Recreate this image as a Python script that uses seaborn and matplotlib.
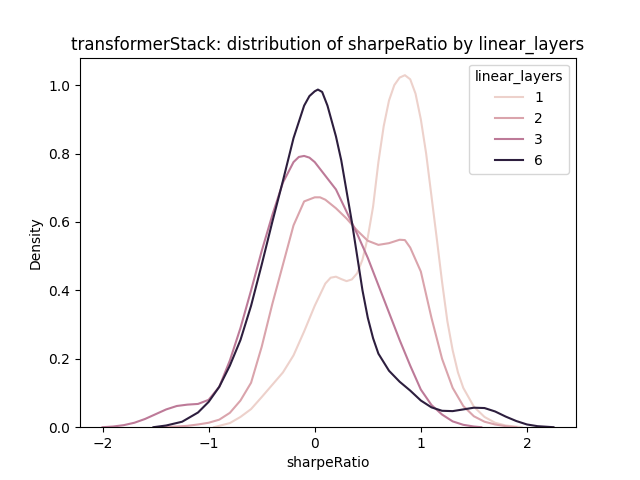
import matplotlib
matplotlib.use("Agg")
import matplotlib.pyplot as plt
import seaborn as sns
import pandas as pd

# Density curves (x = sharpeRatio, y = density)
layers_1_x = [-0.95, -0.8, -0.7, -0.6, -0.5, -0.4, -0.3, -0.2, -0.1, 0.0, 0.1, 0.15, 0.2, 0.25,
              0.3, 0.35, 0.4, 0.45, 0.5, 0.55, 0.6, 0.65, 0.7, 0.75, 0.8, 0.85, 0.9, 0.95,
              1.0, 1.05, 1.1, 1.15, 1.2, 1.25, 1.3, 1.35, 1.4, 1.5, 1.6, 1.7, 1.8, 1.95]
layers_1_y = [0.0, 0.012, 0.03, 0.053, 0.088, 0.124, 0.16, 0.21, 0.28, 0.355, 0.42, 0.437, 0.44, 0.433,
              0.427, 0.432, 0.45, 0.49, 0.555, 0.645, 0.775, 0.88, 0.955, 1.0, 1.022, 1.029, 1.017, 0.975,
              0.9, 0.8, 0.676, 0.552, 0.425, 0.31, 0.225, 0.16, 0.115, 0.06, 0.03, 0.013, 0.005, 0.0]

layers_2_x = [-1.5, -1.3, -1.2, -1.1, -1.0, -0.9, -0.8, -0.7, -0.6, -0.5, -0.4, -0.3, -0.2, -0.1,
              0.0, 0.05, 0.1, 0.2, 0.3, 0.4, 0.5, 0.6, 0.7, 0.8, 0.85, 0.9, 1.0, 1.1, 1.2, 1.3,
              1.4, 1.5, 1.6, 1.7, 1.8, 1.9]
layers_2_y = [0.0, 0.002, 0.004, 0.008, 0.013, 0.022, 0.042, 0.078, 0.13, 0.235, 0.36, 0.475, 0.59, 0.66,
              0.672, 0.672, 0.665, 0.64, 0.61, 0.575, 0.545, 0.533, 0.538, 0.548, 0.547, 0.525, 0.455, 0.32,
              0.2, 0.115, 0.062, 0.032, 0.016, 0.008, 0.003, 0.0]

layers_3_x = [-2.0, -1.9, -1.8, -1.7, -1.6, -1.5, -1.4, -1.3, -1.2, -1.1, -1.0, -0.9, -0.8, -0.7,
              -0.6, -0.5, -0.4, -0.3, -0.2, -0.15, -0.1, -0.05, 0.0, 0.1, 0.2, 0.3, 0.4, 0.5,
              0.6, 0.7, 0.8, 0.9, 1.0, 1.1, 1.2, 1.3, 1.4, 1.5, 1.57]
layers_3_y = [0.0, 0.002, 0.006, 0.013, 0.024, 0.038, 0.052, 0.062, 0.066, 0.068, 0.08, 0.118, 0.195, 0.29,
              0.4, 0.515, 0.62, 0.715, 0.775, 0.79, 0.793, 0.788, 0.775, 0.735, 0.695, 0.63, 0.565, 0.495,
              0.415, 0.335, 0.255, 0.18, 0.11, 0.065, 0.037, 0.017, 0.007, 0.002, 0.0]

layers_6_x = [-1.52, -1.4, -1.25, -1.1, -1.0, -0.9, -0.8, -0.7, -0.6, -0.5, -0.4, -0.3, -0.2, -0.1,
              -0.05, 0.0, 0.03, 0.07, 0.12, 0.2, 0.25, 0.3, 0.35, 0.4, 0.45, 0.5, 0.55, 0.6,
              0.7, 0.8, 0.9, 1.0, 1.1, 1.2, 1.3, 1.4, 1.5, 1.6, 1.7, 1.8, 1.9, 2.0, 2.1, 2.25]
layers_6_y = [0.0, 0.005, 0.016, 0.043, 0.074, 0.118, 0.18, 0.255, 0.355, 0.475, 0.6, 0.72, 0.845, 0.94,
              0.968, 0.982, 0.987, 0.98, 0.94, 0.85, 0.78, 0.69, 0.6, 0.5, 0.4, 0.32, 0.26, 0.215,
              0.165, 0.133, 0.107, 0.078, 0.058, 0.048, 0.047, 0.052, 0.057, 0.056, 0.046, 0.031, 0.018,
              0.008, 0.003, 0.0]

levels = [1, 2, 3, 6]
xs = [layers_1_x, layers_2_x, layers_3_x, layers_6_x]
ys = [layers_1_y, layers_2_y, layers_3_y, layers_6_y]

frames = [pd.DataFrame({"sharpeRatio": x, "Density": y, "linear_layers": lv})
          for lv, x, y in zip(levels, xs, ys)]
df = pd.concat(frames, ignore_index=True)

fig, ax = plt.subplots(figsize=(6.4, 4.8), dpi=100)
sns.lineplot(data=df, x="sharpeRatio", y="Density", hue="linear_layers",
             legend="full", ax=ax, linewidth=1.5)
ax.set_ylim(bottom=0)
ax.set_title("transformerStack: distribution of sharpeRatio by linear_layers")
ax.legend(title="linear_layers", loc="upper right")
fig.savefig("out.png", dpi=100)
